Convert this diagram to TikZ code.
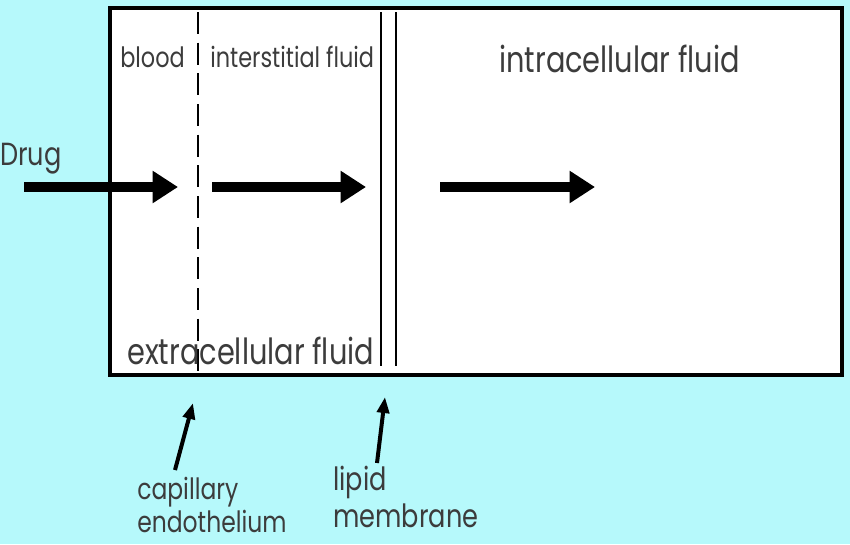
\documentclass[tikz,border=0pt]{standalone}
\usepackage{fontspec}
\setmainfont{Poppins}
\newfontfamily\lblfont[FakeStretch=0.8]{Poppins}
\usetikzlibrary{arrows.meta}
\definecolor{bgcyan}{RGB}{182,249,251}
\definecolor{txtgray}{RGB}{60,60,60}

\begin{document}
\begin{tikzpicture}[x=0.75pt, y=-0.75pt,
    lbl/.style={text=txtgray, inner sep=0pt, anchor=base west, font=\lblfont\fontsize{21}{24}\selectfont},
    biglbl/.style={lbl, font=\lblfont\fontsize{27}{30}\selectfont},
    midlbl/.style={lbl, font=\lblfont\fontsize{24}{28}\selectfont},
    flow/.style={line width=7.5pt, -{Triangle[length=19pt, width=23pt]}},
    pointer/.style={line width=3pt, -{Triangle[length=12pt, width=9pt]}}]
    % background and compartment box
    \fill[bgcyan] (0,0) rectangle (850,544);
    \draw[line width=3pt, fill=white] (110,8) rectangle (842,375);

    % membranes
    \coordinate (capTop) at (198,12);
    \coordinate (capBot) at (198,374);
    \coordinate (lipTopA) at (381,12);
    \coordinate (lipBotA) at (381,366);
    \coordinate (lipTopB) at (396,12);
    \coordinate (lipBotB) at (396,366);
    \draw[line width=1.5pt, dash pattern=on 16.5pt off 6.5pt] (capTop) -- (capBot);
    \draw[line width=1.5pt] (lipTopA) -- (lipBotA);
    \draw[line width=1.5pt] (lipTopB) -- (lipBotB);

    % compartment labels
    \node[lbl] (blood) at (120,67) {blood};
    \node[lbl] (inter) at (210,67) {interstitial fluid};
    \node[biglbl] (intra) at (499,72) {intracellular fluid};
    \node[biglbl] (extra) at (127,364) {extracellular fluid};

    % drug flow
    \node[midlbl] (drug) at (0,165) {Drug};
    \coordinate (drugIn) at (24,187);
    \coordinate (drugA) at (178,187);
    \coordinate (interIn) at (212,187);
    \coordinate (interOut) at (366,187);
    \coordinate (intraIn) at (440,187);
    \coordinate (intraOut) at (595,187);
    \draw[flow] (drugIn) -- (drugA);
    \draw[flow] (interIn) -- (interOut);
    \draw[flow] (intraIn) -- (intraOut);

    % membrane names
    \node[midlbl, font=\lblfont\fontsize{22}{25}\selectfont, anchor=north west, align=left] (capEndo) at (137,477) {capillary\\endothelium};
    \node[midlbl, anchor=north west, align=left] (lipMem) at (333,466) {lipid\\membrane};
    \coordinate (capTail) at (175,470);
    \coordinate (capTip) at (193,403);
    \coordinate (lipTail) at (377,463);
    \coordinate (lipTip) at (385,397);
    \draw[pointer] (capTail) -- (capTip);
    \draw[pointer] (lipTail) -- (lipTip);
\end{tikzpicture}
\end{document}
